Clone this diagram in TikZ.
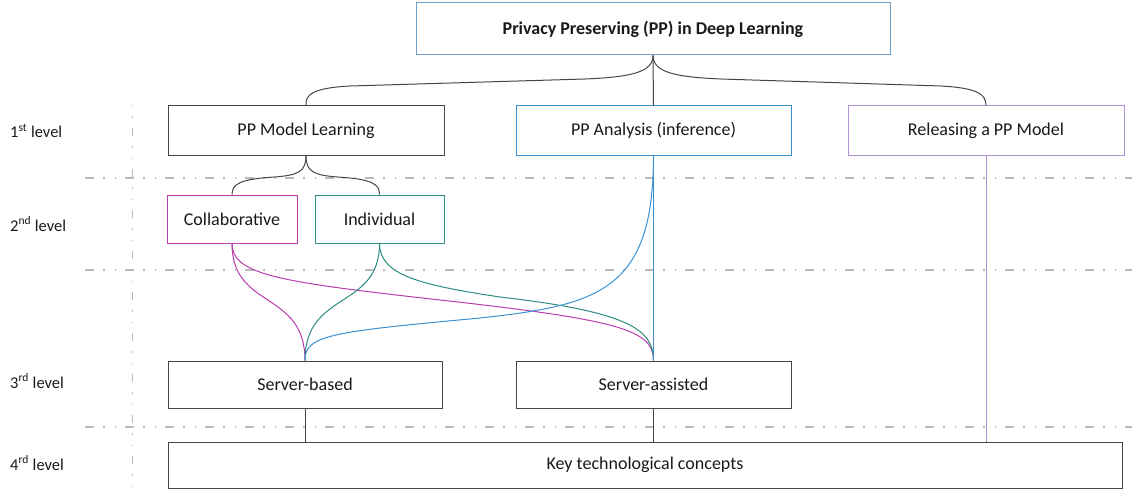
\documentclass[tikz,border=0pt]{standalone}
\usepackage{fontspec}
\setmainfont{Carlito}
\definecolor{edgegray}{RGB}{70,70,70}
\definecolor{topblue}{RGB}{110,160,205}
\definecolor{anablue}{RGB}{60,145,210}
\definecolor{relpurple}{RGB}{175,145,215}
\definecolor{colmag}{RGB}{185,60,175}
\definecolor{indteal}{RGB}{45,140,130}
\definecolor{divgray}{RGB}{185,185,185}
\tikzset{
  box/.style={draw=edgegray, line width=1pt, rectangle, inner sep=0pt,
    font=\fontsize{18}{21}\selectfont, text=black!90},
  link/.style={line width=1pt},
  divider/.style={draw=divgray, line width=1.2pt,
    dash pattern=on 9pt off 9pt on 1.5pt off 10pt on 1.5pt off 9pt},
  vdivider/.style={draw=divgray, line width=1pt,
    dash pattern=on 1.5pt off 10pt on 1.5pt off 10pt on 8pt off 10pt},
  levellabel/.style={anchor=west, inner sep=0pt, font=\fontsize{16.5}{19}\selectfont, text=black!90}
}
\begin{document}
\begin{tikzpicture}[x=1pt, y=-1pt]
\useasboundingbox (0,0) rectangle (1132,492);

% level separators
\draw[divider] (85,178) -- (1132,178);
\draw[divider] (85,270) -- (1132,270);
\draw[divider] (85,427) -- (1132,427);
\draw[vdivider] (132,105) -- (132,492);

% level labels
\node[levellabel] (l1) at (10,131) {1\textsuperscript{st} level};
\node[levellabel] (l2) at (10,224) {2\textsuperscript{nd} level};
\node[levellabel] (l3) at (10,381) {3\textsuperscript{rd} level};
\node[levellabel] (l4) at (10,463) {4\textsuperscript{rd} level};

% boxes
\node[box, draw=topblue, minimum width=474pt, minimum height=52pt, font=\fontsize{18}{21}\selectfont\bfseries]
  (top) at (653,29) {Privacy Preserving (PP) in Deep Learning};
\node[box, minimum width=276pt, minimum height=49pt] (pml) at (306,130.5) {PP Model Learning};
\node[box, draw=anablue, minimum width=275pt, minimum height=49pt] (ppa) at (653.5,130.5) {PP Analysis (inference)};
\node[box, draw=relpurple, minimum width=276pt, minimum height=49pt] (rel) at (986,130.5) {Releasing a PP Model};
\node[box, draw=colmag, minimum width=130pt, minimum height=48pt] (col) at (232,219) {Collaborative};
\node[box, draw=indteal, minimum width=129pt, minimum height=48pt] (ind) at (379.5,219) {Individual};
\node[box, minimum width=274pt, minimum height=47pt] (sb) at (305,384.5) {Server-based};
\node[box, minimum width=275pt, minimum height=47pt] (sa) at (653.5,384.5) {Server-assisted};
\node[box, minimum width=954pt, minimum height=46pt] (key) at (645,465) {Key technological concepts};

% top-level braces
\draw[link, edgegray] (top.south) .. controls (653,72) and (632,77) .. (585,79)
  -- (350,86) .. controls (312,88) and (305,95) .. (pml.north);
\draw[link, edgegray] (top.south) .. controls (653,72) and (674,77) .. (721,79)
  -- (941,86) .. controls (979,88) and (986,95) .. (rel.north);
\draw[link, edgegray] (top.south) -- (ppa.north);

% second-level brace
\draw[link, edgegray] (pml.south) .. controls (306,172) and (298,175) .. (275,177)
  .. controls (240,179) and (232,184) .. (col.north);
\draw[link, edgegray] (pml.south) .. controls (306,172) and (314,175) .. (337,177)
  .. controls (372,179) and (379.5,184) .. (ind.north);

% second level to third level
\draw[link, colmag] (col.south) .. controls (232,310) and (305,290) .. (sb.north);
\draw[link, colmag] (col.south) .. controls (232,275) and (280,282) .. (440,300)
  .. controls (620,320) and (653.5,330) .. (sa.north);
\draw[link, indteal] (ind.south) .. controls (379.5,310) and (305,290) .. (sb.north);
\draw[link, indteal] (ind.south) .. controls (379.5,275) and (420,285) .. (500,297)
  .. controls (630,312) and (653.5,330) .. (sa.north);
\draw[link, anablue] (ppa.south) .. controls (653.5,290) and (600,305) .. (480,318)
  .. controls (330,332) and (305,335) .. (sb.north);
\draw[link, anablue] (ppa.south) -- (sa.north);
\draw[link, relpurple] (rel.south) -- (rel.south |- key.north);

% third level to fourth level
\draw[link, edgegray] (sb.south) -- (sb.south |- key.north);
\draw[link, edgegray] (sa.south) -- (sa.south |- key.north);
\end{tikzpicture}
\end{document}
